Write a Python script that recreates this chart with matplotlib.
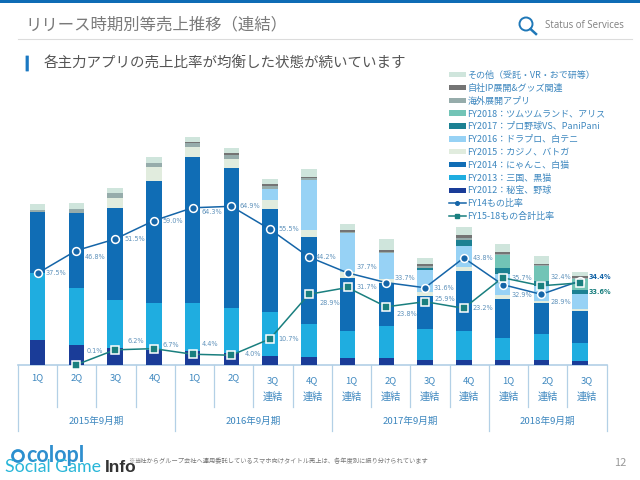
import matplotlib
matplotlib.use("Agg")
import matplotlib.pyplot as plt
import numpy as np
from matplotlib.lines import Line2D
from matplotlib.patches import Patch, Circle, FancyBboxPatch

plt.rcParams['font.family'] = ['Noto Sans CJK JP', 'DejaVu Sans']

quarters = ['1Q','2Q','3Q','4Q','1Q','2Q','3Q','4Q','1Q','2Q','3Q','4Q','1Q','2Q','3Q']
consolidated_label = '連結'
years = ['2015年9月期','2016年9月期','2017年9月期','2018年9月期']

fy12 = [25,20,17,15,14.3,11.7,9,8,7.3,6.7,5,5,5,5,4]
fy13 = [67.3,56.7,48.3,47.3,47.7,45.3,44.3,33,26.7,32.3,30.7,28.7,21.7,25.7,18.3]
fy14 = [60.3,75.3,91.7,122,145.7,140.3,103,86.7,52.7,42.7,33.7,60,39.7,31.7,32]
fy15 = [0,0,10.3,13.7,10.3,8.7,8.7,7,6.7,4,4,4,4,1.7,2]
fy16 = [0,0,0,0,0,0,11,50.3,38.3,26,21.3,21,20.3,15,14.3]
fy17 = [0,0,0,0,0,0,0,0,0,0,2.7,6.7,6.7,4.7,4.3]
fy18 = [0,0,0,0,0,0,0,0,0,0,0,0,12.7,15.3,11]
overseas = [2.3,4.3,5,4.3,4.3,4.3,3,2,1.7,1.7,1.3,1.7,1,0.7,0.7]
own_ip = [0,0,0,0,0.7,1.7,1.7,1.3,1.7,1.7,2.3,3.3,2.3,1.3,2.3]
others = [6,5.7,5,5.3,4.7,5,5.3,8,6,10.7,6,7.3,7.7,8.3,3.7]

fy14_ratio = [37.5,46.8,51.5,59.0,64.3,64.9,55.5,44.2,37.7,33.7,31.6,43.8,32.9,28.9,34.4]
fy15_18_ratio = [0.1,6.2,6.7,4.4,4.0,10.7,28.9,31.7,23.8,25.9,23.2,35.7,32.4,33.6]

series_labels = ['FY2012：秘宝、野球','FY2013：三国、黒猫','FY2014：にゃんこ、白猫','FY2015：カジノ、バトガ',
                 'FY2016：ドラプロ、白テニ','FY2017：プロ野球VS、PaniPani','FY2018：ツムツムランド、アリス',
                 '海外展開アプリ','自社IP展開&グッズ関連','その他（受託・VR・おで研等）']
line_labels = ['FY14もの比率','FY15-18もの合計比率']

colors = ['#1a3c98','#1fade0','#106db5','#e1ecde','#97d2f5','#1c8193','#72c4b6','#96acab','#747474','#cfe5dc']
BLUE = '#1565a8'; TEAL = '#1a7f7f'
LABEL = '#5f92bb'; TXT = '#3d87bf'; RULE = '#b3d0e6'

fig = plt.figure(figsize=(6.4, 4.8), dpi=100, facecolor='white')
ov = fig.add_axes([0,0,1,1], zorder=0); ov.set_xlim(0,640); ov.set_ylim(480,0); ov.axis('off')

# header
ov.fill_between([0,640],0,3,color='#0f6cb5',lw=0)
ov.text(25,24.5,'リリース時期別等売上推移（連結）',fontsize=11.8,color='#7a7a7a',va='center')
ov.plot([18,632],[39,39],color='#dcdcdc',lw=0.8)
ov.add_patch(Circle((526,24),6.5,fill=False,ec='#1f78b8',lw=1.4))
ov.plot([530.5,536],[29,34],color='#1f78b8',lw=1.8)
ov.text(545,25,'Status of Services',fontsize=6.9,color='#808080',va='center',family='Open Sans')
ov.add_patch(FancyBboxPatch((26,56),2.4,15,boxstyle='round,pad=0.4',fc='#1a78c2',ec='none'))
ov.text(44,64,'各主力アプリの売上比率が均衡した状態が続いています',fontsize=10.45,color='#555555',va='center')

# table
ov.plot([18,607],[365,365],color=RULE,lw=1.2)
n = len(quarters)
w = (606.6-18)/n
for i in range(n+1):
    bottom = 431 if i in (0,4,8,12,15) else 407
    ov.plot([18+w*i]*2,[365,bottom],color=RULE,lw=0.9)
for i,q in enumerate(quarters):
    cx = 18+w*(i+.5)
    if i < 6:
        ov.text(cx,378,q,fontsize=6.8,color=TXT,ha='center',va='center')
    else:
        ov.text(cx,380.5,q,fontsize=6.8,color=TXT,ha='center',va='center')
        ov.text(cx,397,consolidated_label,fontsize=7.3,color=TXT,ha='center',va='center')
for x,y in zip([96.7,253,410,547.5],years):
    ov.text(x,421,y,fontsize=6.9,color=TXT,ha='center',va='center')

# footer
ov.add_patch(Circle((18,456),5.5,fill=False,ec='#2b8fcf',lw=2))
ov.text(26,456,'colopl',fontsize=15.5,color='#2f8fcf',va='center',family='Lato',fontweight='bold')
ov.text(5,467,'Social Game',fontsize=12.8,color='#29b6d8',va='center',family='Lato')
ov.text(105,467,'Info',fontsize=12.5,color='#333333',va='center',family='Liberation Sans',fontweight='bold')
ov.text(134,461,'当社からグループ会社へ運用委託しているスマホ向けタイトル売上は、各年度別に振り分けられています',
        fontsize=4.5,color='#777777',va='center')
ov.text(128,461,'※',fontsize=4.5,color='#777777',va='center')
ov.text(620,463,'12',fontsize=8,color='#9a9a9a',ha='center',va='center')

# bars
ax = fig.add_axes([18/640,(480-365)/480,589/640,245/480], zorder=2)
ax.patch.set_alpha(0)
ax.set_xlim((18-37.5)/38.75,(607-37.5)/38.75); ax.set_ylim(0,245); ax.axis('off')
x = np.arange(n)
stack = [fy12,fy13,fy14,fy15,fy16,fy17,fy18,overseas,own_ip,others]
base = np.zeros(n)
for vals,c,l in zip(stack,colors,series_labels):
    ax.bar(x,vals,width=15.5/38.75,bottom=base,color=c,lw=0,label=l)
    base += np.array(vals)

# lines
ax2 = ax.twinx(); ax2.set_ylim(0,245/2.445); ax2.axis('off'); ax2.patch.set_alpha(0)
ax2.plot(x,fy14_ratio,color=BLUE,lw=1.1,marker='o',ms=5.6,mfc=BLUE,mec='white',mew=1.1,clip_on=False,zorder=3)
ax2.plot(x[1:],fy15_18_ratio,color=TEAL,lw=1.1,marker='s',ms=5.6,mfc=TEAL,mec='white',mew=1.1,clip_on=False,zorder=4)

blue_off = [(8,0),(8.7,-6),(9,0),(9,0),(8.7,-4),(8,0),(8.5,0),(6.5,0),(8.7,6),(8.7,5),(8.5,0),(8.5,0),(9,-10),(9,-8),(8.7,4)]
teal_off = [(10,14),(12,9),(8.5,4),(8.7,10),(13.7,1),(8.5,0),(11,-9),(9,0),(10.7,-7),(9,3),(9,0),(9,0),(9,9),(8.7,-9)]
PT = 0.72
for i,(v,o) in enumerate(zip(fy14_ratio,blue_off)):
    last = i==n-1
    ax2.annotate(f'{v:.1f}%',(x[i],v),xytext=(o[0]*PT,o[1]*PT),textcoords='offset points',fontsize=4.7,
                 color=BLUE if last else LABEL,fontweight='bold' if last else 'normal',va='center',ha='left',
                 family='DejaVu Sans',zorder=6)
for i,(v,o) in enumerate(zip(fy15_18_ratio,teal_off)):
    last = i==len(fy15_18_ratio)-1
    ax2.annotate(f'{v:.1f}%',(x[i+1],v),xytext=(o[0]*PT,o[1]*PT),textcoords='offset points',fontsize=4.7,
                 color=TEAL if last else LABEL,fontweight='bold' if last else 'normal',va='center',ha='left',
                 family='DejaVu Sans',zorder=6)

# legend
handles = [Patch(fc=c,ec='none') for c in colors[::-1]] + [
    Line2D([],[],color=BLUE,lw=1.1,marker='o',ms=2.6),
    Line2D([],[],color=TEAL,lw=1.1,marker='s',ms=2.6)]
labels = series_labels[::-1] + line_labels
leg = fig.legend(handles,labels,loc='upper left',bbox_to_anchor=(449/640,1-70.5/480),frameon=False,fontsize=6.5,
                 handlelength=1.85,handleheight=0.55,handletextpad=0.2,labelspacing=0.425,borderpad=0,borderaxespad=0,
                 labelcolor=TXT)
leg.set_zorder(5)
fig.savefig('out.png',dpi=100)
